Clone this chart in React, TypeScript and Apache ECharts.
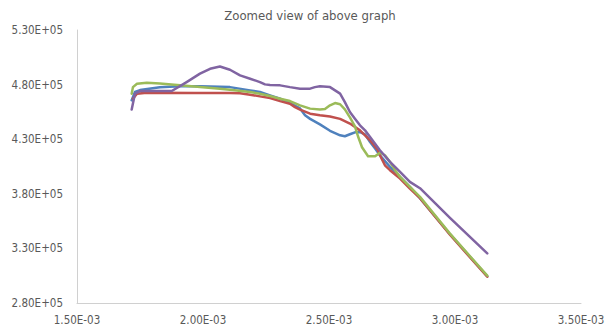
import React, { useEffect, useRef } from "react";
import * as echarts from "echarts";

// Strain values are stored in units of 1e-3; stress values as plain numbers.
const X_UNIT = 1e-3;

const xTicks = { min: 1.5, max: 3.5, step: 0.5 };
const yTicks = { min: 280000, max: 530000, step: 50000 };

const blueX = [1.717, 1.73, 1.75, 1.829, 1.909, 1.988, 2.067, 2.107, 2.187, 2.226, 2.266, 2.306, 2.345, 2.385, 2.405, 2.425, 2.464, 2.504, 2.544, 2.563, 2.583, 2.603, 2.623, 2.643, 2.663, 2.683, 2.702, 2.742, 2.782, 2.821, 2.861, 2.98, 3.128];
const blueY = [465600, 473200, 475000, 477500, 478400, 478400, 478000, 477700, 474700, 473200, 470100, 467100, 463100, 458200, 451900, 448600, 443600, 437700, 433600, 432700, 434500, 436300, 436600, 434500, 427400, 421400, 415300, 404600, 395500, 386300, 376000, 343000, 304500];

const redX = [1.722, 1.738, 1.777, 1.968, 2.107, 2.147, 2.187, 2.226, 2.266, 2.306, 2.345, 2.365, 2.385, 2.425, 2.464, 2.504, 2.544, 2.583, 2.623, 2.663, 2.694, 2.702, 2.722, 2.742, 2.782, 2.821, 2.861, 2.98, 3.128];
const redY = [467100, 471700, 472600, 472400, 472200, 472000, 470800, 469200, 467700, 464900, 462500, 459400, 457100, 453400, 451900, 450800, 448600, 444300, 438100, 429000, 419900, 415300, 406100, 401600, 394000, 384800, 376000, 342500, 304000];

const greenX = [1.717, 1.722, 1.738, 1.777, 1.829, 1.909, 1.988, 2.067, 2.107, 2.187, 2.226, 2.266, 2.306, 2.345, 2.385, 2.425, 2.464, 2.484, 2.504, 2.524, 2.544, 2.563, 2.583, 2.603, 2.615, 2.631, 2.655, 2.683, 2.702, 2.722, 2.742, 2.762, 2.782, 2.821, 2.861, 2.98, 3.128];
const greenY = [471700, 477700, 480800, 481700, 481100, 479300, 477700, 476300, 475300, 473200, 471700, 469500, 467100, 464900, 461000, 458000, 457300, 457600, 461000, 463100, 462000, 457300, 450000, 441800, 432700, 422600, 414400, 414400, 417600, 415300, 409200, 401600, 395500, 386300, 377200, 343500, 305000];

const purpleX = [1.717, 1.73, 1.75, 1.876, 1.935, 1.988, 2.028, 2.067, 2.107, 2.147, 2.187, 2.226, 2.246, 2.266, 2.306, 2.345, 2.385, 2.425, 2.444, 2.464, 2.504, 2.524, 2.544, 2.563, 2.583, 2.603, 2.623, 2.643, 2.663, 2.702, 2.742, 2.782, 2.821, 2.861, 2.98, 3.128];
const purpleY = [457100, 471700, 474100, 474100, 482300, 490000, 494500, 496600, 493600, 488400, 485400, 482300, 480200, 479700, 479300, 477700, 476300, 476300, 477700, 478400, 477700, 474700, 471700, 464000, 454900, 448800, 442700, 438100, 432000, 419900, 409200, 400000, 390900, 385100, 358000, 325400];

const seriesDefs = [
  { name: "Series1", color: "#4F81BD", xs: blueX, ys: blueY },
  { name: "Series2", color: "#C0504D", xs: redX, ys: redY },
  { name: "Series3", color: "#9BBB59", xs: greenX, ys: greenY },
  { name: "Series4", color: "#8064A2", xs: purpleX, ys: purpleY },
];

const TEXT = "#595959";
const AXIS = "#D0D0D0";
const FONT = "'Liberation Sans Narrow', 'DejaVu Sans Condensed', 'Liberation Sans', sans-serif";

// Excel-style scientific notation: 4.80E+05, 2.00E-03
function sci(v: number): string {
  const [m, e] = v.toExponential(2).split("e");
  const n = Number(e);
  return `${m}E${n < 0 ? "-" : "+"}${String(Math.abs(n)).padStart(2, "0")}`;
}

export default function App() {
  const ref = useRef<HTMLDivElement>(null);

  useEffect(() => {
    if (!ref.current) return;
    const chart = echarts.init(ref.current, undefined, { renderer: "svg" });
    chart.setOption({
      animation: false,
      backgroundColor: "#FFFFFF",
      title: {
        text: "Zoomed view of above graph",
        left: 305,
        top: 4,
        textAlign: "center",
        textStyle: { color: TEXT, fontSize: 13, fontWeight: "normal", fontFamily: FONT },
      },
      grid: { left: 77, right: 35, top: 30, bottom: 26 },
      xAxis: {
        type: "value",
        min: xTicks.min,
        max: xTicks.max,
        interval: xTicks.step,
        splitLine: { show: false },
        axisTick: { show: false },
        axisLine: { show: true, lineStyle: { color: AXIS, width: 1 } },
        axisLabel: {
          color: TEXT,
          fontSize: 11.5,
          fontFamily: FONT,
          margin: 11,
          formatter: (v: number) => sci(v * X_UNIT),
        },
      },
      yAxis: {
        type: "value",
        min: yTicks.min,
        max: yTicks.max,
        interval: yTicks.step,
        splitLine: { show: false },
        axisTick: { show: false },
        axisLine: { show: true, lineStyle: { color: AXIS, width: 1 } },
        axisLabel: {
          color: TEXT,
          fontSize: 11.5,
          fontFamily: FONT,
          margin: 14,
          formatter: (v: number) => sci(v),
        },
      },
      series: seriesDefs.map((s) => ({
        name: s.name,
        type: "line",
        showSymbol: false,
        smooth: false,
        lineStyle: { color: s.color, width: 2.5, cap: "round", join: "round" },
        itemStyle: { color: s.color },
        data: s.xs.map((x, i) => [x, s.ys[i]]),
      })),
    });
    return () => chart.dispose();
  }, []);

  return (
    <div
      ref={ref}
      style={{ position: "fixed", left: 0, top: 0, width: 616, height: 329 }}
    />
  );
}
